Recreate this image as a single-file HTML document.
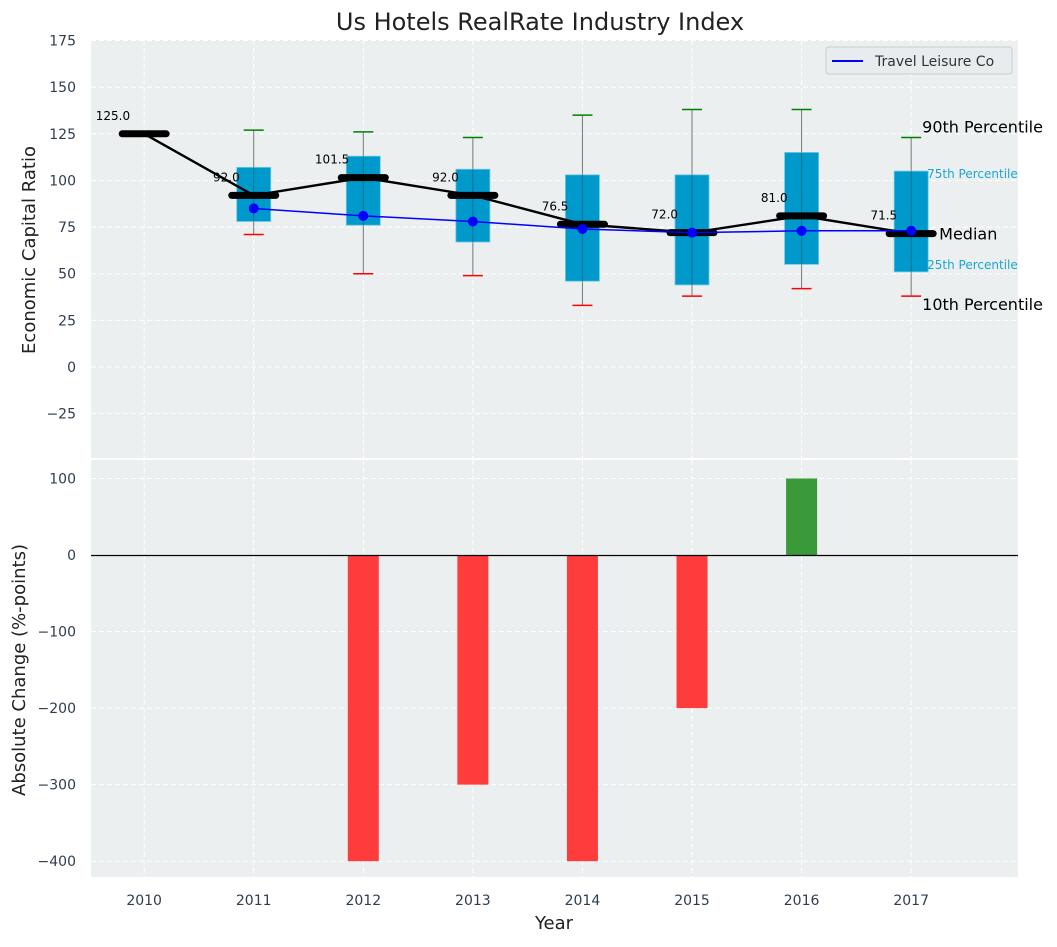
<!DOCTYPE html>
<html><head><meta charset="utf-8"><style>
body{margin:0;background:#fff;font-family:"Liberation Sans","DejaVu Sans",sans-serif}
svg text{font-family:"DejaVu Sans","Liberation Sans",sans-serif}
</style></head><body>
<svg id="c" width="1057" height="942" xmlns="http://www.w3.org/2000/svg"></svg>
<script>
const years=[2010,2011,2012,2013,2014,2015,2016,2017];
const medians=[125,92,101.5,92,76.5,72,81,71.5];
const p25=[null,78,76,67,46,44,55,51];
const p75=[null,107,113,106,103,103,115,105];
const p10=[null,71,50,49,33,38,42,38];
const p90=[null,127,126,123,135,138,138,123];
const company=[null,85,81,78,74,72,73,73];
const changes=[0,0,-400,-300,-400,-200,100,0];
const topTicks=[175,150,125,100,75,50,25,0,-25];
const botTicks=[100,0,-100,-200,-300,-400];

const svg=document.getElementById('c');
const NS='http://www.w3.org/2000/svg';
function el(t,a,txt){const e=document.createElementNS(NS,t);for(const k in a)e.setAttribute(k,a[k]);if(txt!=null)e.textContent=txt;svg.appendChild(e);return e;}
const L=91,R=1018;
const x=v=>L+(v-2009.515)/(2017.975-2009.515)*(R-L);
const yT=v=>367-v*1.8656;
const yB=v=>555-v*0.7655;

let e;
e=el('text',{x:540,y:30,'font-size':24,'text-anchor':'middle',fill:'#222'},'Us Hotels RealRate Industry Index');

e=el('rect',{x:L,y:40,width:R-L,height:418,fill:'#ebeff0'});

e=el('rect',{x:L,y:460,width:R-L,height:417,fill:'#ebeff0'});

years.forEach(yr=>{
 el('line',{x1:x(yr),x2:x(yr),y1:40,y2:458,stroke:'#fff','stroke-dasharray':'5,3','stroke-width':1});
 el('line',{x1:x(yr),x2:x(yr),y1:460,y2:877,stroke:'#fff','stroke-dasharray':'5,3','stroke-width':1});
 e=el('text',{x:x(yr),y:905,'font-size':14,'text-anchor':'middle',fill:'#2d3e50'},yr);
 
});
topTicks.forEach(t=>{
 el('line',{x1:L,x2:R,y1:yT(t),y2:yT(t),stroke:'#fff','stroke-dasharray':'5,3'});
 e=el('text',{x:76,y:yT(t)+5,'font-size':14,'text-anchor':'end',fill:'#2d3e50'},t<0?'\u2212'+(-t):t);
 
});
botTicks.forEach(t=>{
 el('line',{x1:L,x2:R,y1:yB(t),y2:yB(t),stroke:'#fff','stroke-dasharray':'5,3'});
 e=el('text',{x:76,y:yB(t)+5,'font-size':14,'text-anchor':'end',fill:'#2d3e50'},t<0?'\u2212'+(-t):t);
 
});
e=el('text',{x:35,y:250,'font-size':18,'text-anchor':'middle',fill:'#222',transform:'rotate(-90 35 250)'},'Economic Capital Ratio');

e=el('text',{x:25,y:670,'font-size':18,'text-anchor':'middle',fill:'#222',transform:'rotate(-90 25 670)'},'Absolute Change (%-points)');

e=el('text',{x:554,y:929,'font-size':18,'text-anchor':'middle',fill:'#222'},'Year');


years.forEach((yr,i)=>{
 if(p25[i]==null)return;
 const cx=x(yr);
 e=el('line',{x1:cx,x2:cx,y1:yT(p90[i]),y2:yT(p10[i]),stroke:'#777','stroke-width':1});
 
 e=el('rect',{x:cx-17,y:yT(p75[i]),width:34,height:yT(p25[i])-yT(p75[i]),fill:'#0099cc',stroke:'#6cc8e6','stroke-width':0.8});
 
 el('line',{x1:cx,x2:cx,y1:yT(p75[i]),y2:yT(p25[i]),stroke:'#2a5b6e','stroke-width':1,opacity:0.7});
 e=el('line',{x1:cx-10,x2:cx+10,y1:yT(p90[i]),y2:yT(p90[i]),stroke:'green','stroke-width':1.5});
 
 e=el('line',{x1:cx-10,x2:cx+10,y1:yT(p10[i]),y2:yT(p10[i]),stroke:'red','stroke-width':1.5});
 
});
let d=years.map((yr,i)=>(i?'L':'M')+x(yr)+','+yT(medians[i])).join(' ');
e=el('path',{d:d,fill:'none',stroke:'#000','stroke-width':2.4});

years.forEach((yr,i)=>{
 const cx=x(yr),cy=yT(medians[i]);
 e=el('line',{x1:cx-22,x2:cx+22,y1:cy,y2:cy,stroke:'#000','stroke-width':7,'stroke-linecap':'round'});
 
 e=el('text',{x:cx-14,y:cy-14,'font-size':12,'text-anchor':'end',fill:'#000'},medians[i].toFixed(1));
 
});
const cp=years.map((yr,i)=>company[i]==null?null:[x(yr),yT(company[i])]).filter(p=>p);
e=el('path',{d:cp.map((p,i)=>(i?'L':'M')+p[0]+','+p[1]).join(' '),fill:'none',stroke:'#0000ff','stroke-width':1.5});

cp.forEach(p=>{e=el('circle',{cx:p[0],cy:p[1],r:5,fill:'#0000ff'});
 });
const lx=x(2017);
[['90th Percentile',lx+11,yT(p90[7])-5,16,'#000'],['75th Percentile',lx+16,yT(p75[7])+7,12,'#1ba6d1'],['Median',lx+28,yT(medians[7])+6,16,'#000'],['25th Percentile',lx+16,yT(p25[7])-3,12,'#1ba6d1'],['10th Percentile',lx+11,yT(p10[7])+14,16,'#000']].forEach(a=>{
 e=el('text',{x:a[1],y:a[2],'font-size':a[3],fill:a[4]},a[0]);
 
});
e=el('rect',{x:826,y:47,width:186,height:27,rx:3,fill:'#e8ecef',stroke:'#ccc'});

el('line',{x1:832,x2:863,y1:61,y2:61,stroke:'#0000ff','stroke-width':2});
e=el('text',{x:875,y:66,'font-size':14,fill:'#333'},'Travel Leisure Co');


years.forEach((yr,i)=>{
 const v=changes[i];if(!v)return;
 const y0=yB(Math.max(v,0)),y1=yB(Math.min(v,0));
 e=el('rect',{x:x(yr)-15.5,y:y0,width:31,height:y1-y0,fill:v<0?'#ff3c3c':'#3a9a3a'});
 
});
e=el('line',{x1:L,x2:R,y1:Math.round(yB(0))+0.5,y2:Math.round(yB(0))+0.5,stroke:'#000','stroke-width':1.2});

</script>
</body></html>
